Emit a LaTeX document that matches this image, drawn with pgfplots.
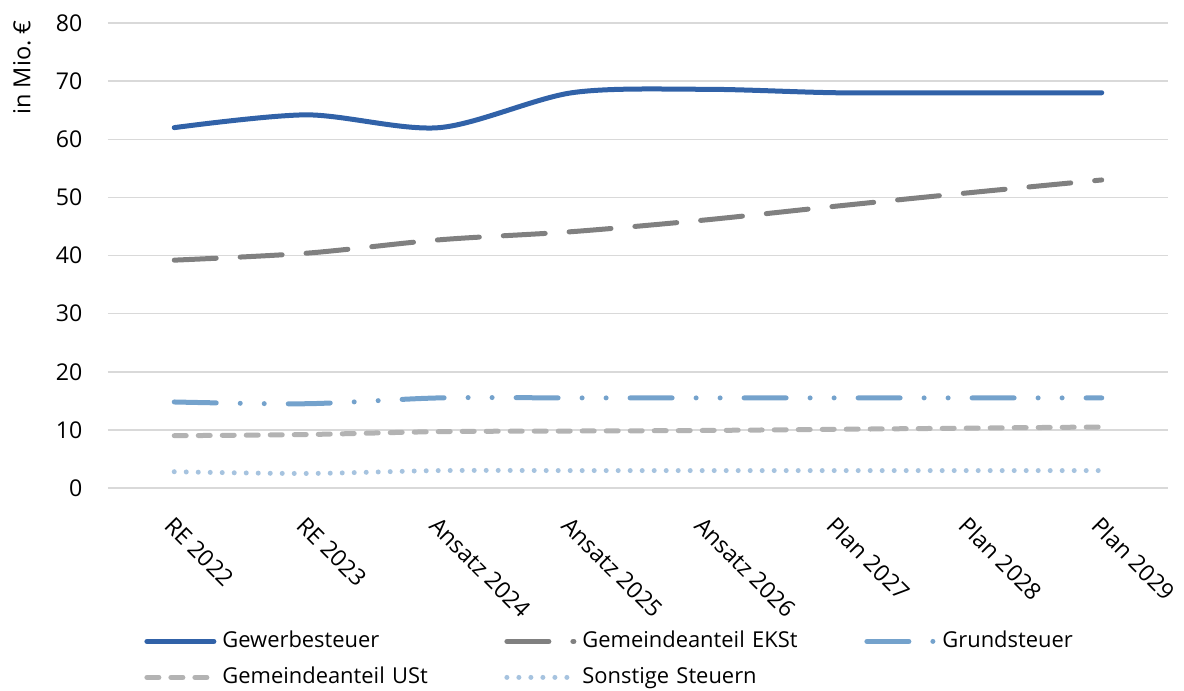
\documentclass[border=0pt]{standalone}
\usepackage{fontspec}
\setmainfont{Open Sans}
\usepackage{pgfplots}
\pgfplotsset{compat=1.18}

\definecolor{gewerbe}{HTML}{3162A8}
\definecolor{ekst}{HTML}{808080}
\definecolor{grund}{HTML}{74A2CC}
\definecolor{ust}{HTML}{B3B3B3}
\definecolor{sonst}{HTML}{A6C3DF}
\definecolor{gridgray}{HTML}{D9D9D9}

\begin{document}
\fontsize{11}{13}\selectfont
\begin{tikzpicture}
\useasboundingbox (-54bp,-101.5bp) rectangle (538bp,244bp);
\begin{axis}[
  at={(0,0)}, anchor=south west, scale only axis,
  width=530bp, height=232.5bp,
  xmin=-0.5, xmax=7.5, ymin=0, ymax=80,
  xtick={0,...,7},
  xticklabels={RE 2022, RE 2023, Ansatz 2024, Ansatz 2025, Ansatz 2026,
               Plan 2027, Plan 2028, Plan 2029},
  ytick={0,10,...,80},
  axis line style={draw=none},
  major tick length=0pt,
  ymajorgrids,
  grid style={gridgray, line width=0.75bp},
  /pgf/number format/assume math mode=true,
  tick label style={font=\fontsize{11.6}{14}\selectfont},
  xticklabel style={rotate=-45, anchor=north west, yshift=-5.5bp, xshift=6bp},
  yticklabel style={xshift=-9bp},
  clip=false,
  every axis plot/.append style={line width=2.5bp, line cap=round},
  legend image code/.code={\draw[#1] (1.25bp,0bp) -- (34.75bp,0bp);},
  legend style={draw=none, fill=none, inner sep=0pt,
    at={(0,0)}, anchor=north west, xshift=18bp, yshift=-67.5bp,
    legend columns=3,
    nodes={inner xsep=3bp, inner ysep=3.5bp, text height=8.5bp, text depth=2.5bp,
           text width=138bp, align=left, anchor=west},
  },
  legend cell align=left,
]
\addplot[gewerbe, smooth, tension=0.5] coordinates {
  (0,62.0)(1,64.2)(2,62.0)(3,68.0)(4,68.6)(5,68.0)(6,68.0)(7,68.0)
};
\addlegendentry{Gewerbesteuer}

\addplot[ekst, smooth, tension=0.5, dash pattern=on 21bp off 12bp] coordinates {
  (0,39.2)(1,40.4)(2,42.7)(3,44.1)(4,46.1)(5,48.5)(6,50.8)(7,53.0)
};
\addlegendentry{Gemeindeanteil EKSt}

\addplot[grund, smooth, tension=0.5,
  dash pattern=on 21bp off 12bp on 0bp off 12bp on 0bp off 12bp] coordinates {
  (0,14.8)(1,14.5)(2,15.5)(3,15.5)(4,15.5)(5,15.5)(6,15.5)(7,15.5)
};
\addlegendentry{Grundsteuer}

\addplot[ust, smooth, tension=0.5, dash pattern=on 6bp off 6bp] coordinates {
  (0,9.0)(1,9.2)(2,9.7)(3,9.8)(4,9.9)(5,10.1)(6,10.3)(7,10.5)
};
\addlegendentry{Gemeindeanteil USt}

\addplot[sonst, smooth, tension=0.5, dash pattern=on 0bp off 6bp] coordinates {
  (0,2.8)(1,2.5)(2,3.0)(3,3.0)(4,3.0)(5,3.0)(6,3.0)(7,3.0)
};
\addlegendentry{Sonstige Steuern}

\node[rotate=90, anchor=south east, inner sep=0pt, font=\fontsize{11.8}{14}\selectfont]
  at ([xshift=-38.5bp, yshift=1.5bp]rel axis cs:0,1) {in Mio.\ €};
\end{axis}
\end{tikzpicture}
\end{document}
